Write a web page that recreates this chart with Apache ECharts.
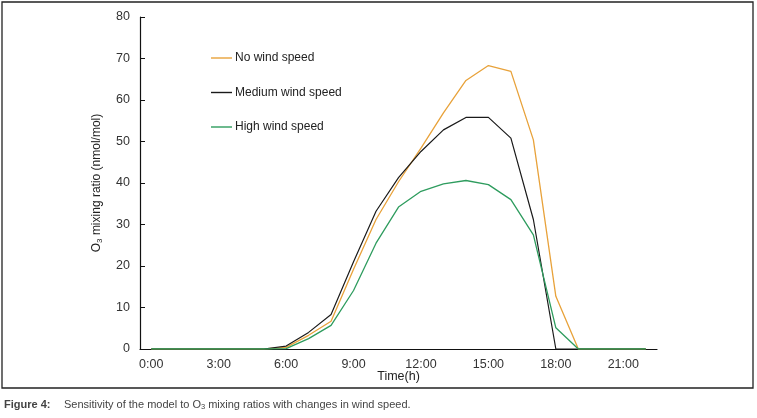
<!DOCTYPE html>
<html><head><meta charset="utf-8">
<script src="https://cdn.jsdelivr.net/npm/echarts@6/dist/echarts.min.js"></script>
<style>html,body{margin:0;padding:0;background:#fff}#c{width:757px;height:418px}</style>
</head><body><div id="c"></div>
<script>
const hours = ['0:00','1:00','2:00','3:00','4:00','5:00','6:00','7:00','8:00','9:00','10:00','11:00','12:00','13:00','14:00','15:00','16:00','17:00','18:00','19:00','20:00','21:00','22:00'];
const noWind =     [0,0,0,0,0,0,0.4,3.3,6.7,19.2,31.2,40.3,48.4,56.9,64.7,68.3,66.9,50.4,12.7,0,0,0,0];
const mediumWind = [0,0,0,0,0,0,0.7,4.0,8.3,21.0,33.2,41.3,47.6,52.8,55.8,55.8,50.8,31.2,0,0,0,0,0];
const highWind =   [0,0,0,0,0,0,0.1,2.5,5.7,14.1,25.5,34.2,38.0,39.8,40.6,39.6,36.0,27.5,5.1,0,0,0,0];
const yTicks = {min:0, max:80, interval:10};

const FONT = '"Liberation Sans Narrow","Liberation Sans",Arial,sans-serif';
const chart = echarts.init(document.getElementById('c'));
chart.setOption({
  animation:false,
  textStyle:{fontFamily:FONT},
  grid:{left:140, right:100, top:17, bottom:69, containLabel:false},
  legend:{
    orient:'vertical', left:206, top:47, itemGap:22.5, itemWidth:21, itemHeight:1.4, icon:'rect',
    textStyle:{fontFamily:FONT, fontSize:12, color:'#222', padding:[0,0,0,-2]},
    data:['No wind speed','Medium wind speed','High wind speed']
  },
  xAxis:{
    type:'category', data:hours, boundaryGap:true,
    name:'Time(h)', nameLocation:'middle', nameGap:21, nameMoveOverlap:false,
    nameTextStyle:{fontFamily:FONT, fontSize:12.5, color:'#222'},
    axisLine:{lineStyle:{color:'#111', width:1.2}},
    axisTick:{inside:true, length:5, interval:0, lineStyle:{color:'#111'}},
    axisLabel:{interval:2, fontFamily:FONT, fontSize:12.5, color:'#333', margin:9},
    splitLine:{show:false}
  },
  yAxis:{
    type:'value', min:yTicks.min, max:yTicks.max, interval:yTicks.interval,
    name:'{a|O}{s|3}{a| mixing ratio (nmol/mol)}', nameLocation:'middle', nameGap:36, nameRotate:90, nameMoveOverlap:false,
    nameTextStyle:{rich:{a:{fontFamily:FONT, fontSize:12, color:'#222'}, s:{fontFamily:FONT, fontSize:8, color:'#222', verticalAlign:'bottom', padding:[6,0,0,0]}}},
    axisLine:{show:true, lineStyle:{color:'#111', width:1.2}},
    axisTick:{show:true, inside:true, length:5, lineStyle:{color:'#111'}},
    axisLabel:{fontFamily:FONT, fontSize:12.5, color:'#333', margin:10},
    splitLine:{show:false}
  },
  series:[
    {name:'No wind speed', type:'line', data:noWind, symbol:'none', lineStyle:{color:'#E8A23A', width:1.3}, itemStyle:{color:'#E8A23A'}},
    {name:'Medium wind speed', type:'line', data:mediumWind, symbol:'none', lineStyle:{color:'#1a1a1a', width:1.2}, itemStyle:{color:'#1a1a1a'}},
    {name:'High wind speed', type:'line', data:highWind, symbol:'none', lineStyle:{color:'#2E9C5E', width:1.3}, itemStyle:{color:'#2E9C5E'}}
  ],
  graphic:[
    {type:'rect', shape:{x:2, y:2, width:751, height:386}, style:{fill:'none', stroke:'#222', lineWidth:1.3}, silent:true},
    {type:'text', left:4, top:399, style:{text:'Figure 4:', font:'bold 11px '+FONT, fill:'#444'}},
    {type:'text', left:64, top:399, style:{text:'{a|Sensitivity of the model to O}{s|3}{a| mixing ratios with changes in wind speed.}',
      rich:{a:{fontFamily:FONT, fontSize:11, fill:'#444'}, s:{fontFamily:FONT, fontSize:7.5, fill:'#444', verticalAlign:'bottom', padding:[5,0,0,0]}}}}
  ]
});
</script></body></html>
